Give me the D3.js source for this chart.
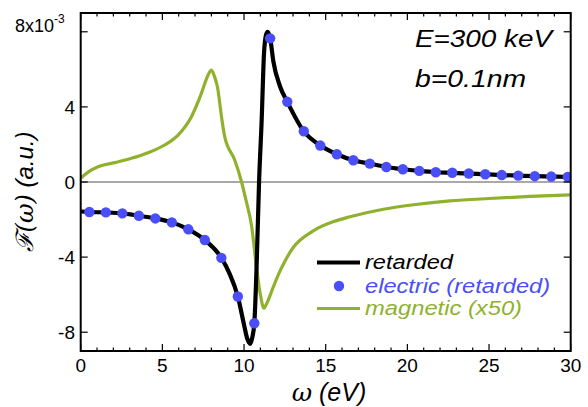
<!DOCTYPE html>
<html><head><meta charset="utf-8">
<script src="https://cdn.jsdelivr.net/npm/d3@7"></script>
<style>body{margin:0;background:#fff}svg{display:block}text{font-family:"Liberation Sans",Arial,sans-serif}</style>
</head><body><svg id="c" width="588" height="407"></svg>
<script>
// retarded (black line)
const retOmega = [0,0.53,1.54,2.55,3.56,4.57,5.58,6.59,7.6,8.61,9.1,9.62,10.0,10.2,10.38,10.5,10.63,10.78,10.92,11.08,11.22,11.35,11.45,11.6,11.8,12.2,12.65,13.66,14.67,15.68,16.69,17.7,18.71,19.72,20.73,21.74,22.75,23.76,24.77,25.78,26.79,27.8,28.81,29.82,30];
const retVal = [-1.57,-1.60,-1.62,-1.67,-1.80,-1.94,-2.15,-2.52,-3.09,-4.04,-4.85,-6.10,-7.6,-8.35,-8.62,-8.3,-7.52,-4.2,0,3.3,6.8,7.85,8.0,7.65,6.4,5.1,4.27,2.70,1.94,1.48,1.16,0.98,0.80,0.68,0.59,0.52,0.49,0.45,0.41,0.37,0.34,0.31,0.29,0.27,0.26];
// electric (retarded) (blue dots)
const elecOmega = [0.53,1.54,2.55,3.56,4.57,5.58,6.59,7.6,8.61,9.62,10.63,11.6,12.65,13.66,14.67,15.68,16.69,17.7,18.71,19.72,20.73,21.74,22.75,23.76,24.77,25.78,26.79,27.8,28.81,29.82];
const elecVal = [-1.60,-1.62,-1.67,-1.80,-1.94,-2.15,-2.52,-3.09,-4.04,-6.10,-7.52,7.65,4.27,2.70,1.94,1.48,1.16,0.98,0.80,0.68,0.59,0.52,0.49,0.45,0.41,0.37,0.34,0.31,0.29,0.27];
// magnetic (x50) (green line)
const magOmega = [0,0.5,1.06,2.08,3.1,4.12,5.14,5.96,6.78,7.39,7.8,8.0,8.2,8.37,8.65,8.82,9.43,9.85,10.1,10.47,10.78,11.0,11.22,11.4,11.8,12.2,13.0,14.24,15.47,16.49,18.53,20.5,22.6,25,27.5,30];
const magVal = [0.2,0.55,0.81,1.03,1.26,1.56,1.97,2.5,3.48,4.72,5.7,5.96,5.6,5.07,3.29,2.4,1.17,0,-0.9,-2.38,-4.68,-6.0,-6.72,-6.45,-5.57,-4.75,-3.5,-2.6,-2.11,-1.85,-1.45,-1.2,-1.01,-0.88,-0.77,-0.68];
const xTicks = [0,5,10,15,20,25,30];
const yTicks = [-8,-4,0,4];
const yTopLabel = "8x10";
const yTopExp = "-3";
const legendLabels = ["retarded","electric (retarded)","magnetic (x50)"];

const W=588,H=407, L=80.7, R=570.7, T=13, B=351;
const x=d3.scaleLinear().domain([0,30]).range([L,R]);
const y=d3.scaleLinear().domain([-9,9]).range([B,T]);
const svg=d3.select("#c");
const blue="#4a4ef6", green="#8fb12e";

svg.append("defs").append("clipPath").attr("id","clip").append("rect")
  .attr("x",L).attr("y",T).attr("width",R-L).attr("height",B-T);

// zero line
svg.append("line").attr("x1",L).attr("x2",R).attr("y1",y(0)).attr("y2",y(0))
  .attr("stroke","#555").attr("stroke-width",1.2);

const g=svg.append("g").attr("clip-path","url(#clip)");
const line=d3.line().x(d=>x(d[0])).y(d=>y(d[1])).curve(d3.curveMonotoneX);
g.append("path").datum(magOmega.map((o,i)=>[o,magVal[i]])).attr("d",line)
  .attr("fill","none").attr("stroke",green).attr("stroke-width",3.2);
g.append("path").datum(retOmega.map((o,i)=>[o,retVal[i]])).attr("d",line)
  .attr("fill","none").attr("stroke","#000").attr("stroke-width",4.2);
g.selectAll("circle.e").data(elecOmega.map((o,i)=>[o,elecVal[i]])).enter().append("circle")
  .attr("cx",d=>x(d[0])).attr("cy",d=>y(d[1])).attr("r",5.2).attr("fill",blue);

// axes frame with inward ticks
const minorX=d3.range(0,31,1);
const ax=svg.append("g");
minorX.forEach(v=>{
  const len = v%5===0?7:3.5;
  ax.append("line").attr("x1",x(v)).attr("x2",x(v)).attr("y1",B).attr("y2",B-len).attr("stroke","#000").attr("stroke-width",1.2);
  ax.append("line").attr("x1",x(v)).attr("x2",x(v)).attr("y1",T).attr("y2",T+len).attr("stroke","#000").attr("stroke-width",1.2);
});
[-8,-4,0,4,8].forEach(v=>{
  ax.append("line").attr("x1",L).attr("x2",L+7).attr("y1",y(v)).attr("y2",y(v)).attr("stroke","#000").attr("stroke-width",1.2);
  ax.append("line").attr("x1",R).attr("x2",R-7).attr("y1",y(v)).attr("y2",y(v)).attr("stroke","#000").attr("stroke-width",1.2);
});
ax.append("rect").attr("x",L).attr("y",T).attr("width",R-L).attr("height",B-T)
  .attr("fill","none").attr("stroke","#000").attr("stroke-width",2);

// tick labels
xTicks.forEach(v=>{
  svg.append("text").attr("x",x(v)).attr("y",372).attr("text-anchor","middle")
    .attr("font-size",19).text(v);
});
yTicks.forEach(v=>{
  svg.append("text").attr("x",75).attr("y",y(v)+7).attr("text-anchor","end")
    .attr("font-size",19).text(v);
});
const tl=svg.append("text").attr("x",15).attr("y",32).attr("font-size",18);
tl.append("tspan").text(yTopLabel);
tl.append("tspan").attr("dy",-9).attr("font-size",12).text(yTopExp);

// axis titles
const xt=svg.append("text").attr("x",329).attr("y",401).attr("text-anchor","middle").attr("font-size",25).attr("font-style","italic");
xt.append("tspan").attr("font-family","DejaVu Serif").text("ω");
xt.append("tspan").text(" (eV)");
const yt=svg.append("text").attr("transform","translate(33,"+192+") rotate(-90)").attr("text-anchor","middle").attr("font-size",24).attr("font-style","italic");
yt.append("tspan").attr("font-family","DejaVu Serif").text("ℱ(ω)");
yt.append("tspan").text(" (a.u.)");

// annotations
svg.append("text").attr("x",415).attr("y",47).attr("font-size",23).attr("font-style","italic")
  .attr("textLength",137).attr("lengthAdjust","spacingAndGlyphs").text("E=300 keV");
svg.append("text").attr("x",415).attr("y",87).attr("font-size",23).attr("font-style","italic")
  .attr("textLength",111).attr("lengthAdjust","spacingAndGlyphs").text("b=0.1nm");

// legend
const lg=svg.append("g");
lg.append("line").attr("x1",317).attr("x2",360).attr("y1",262.5).attr("y2",262.5).attr("stroke","#000").attr("stroke-width",4);
lg.append("circle").attr("cx",339).attr("cy",286).attr("r",5.2).attr("fill",blue);
lg.append("line").attr("x1",317).attr("x2",360).attr("y1",308.5).attr("y2",308.5).attr("stroke",green).attr("stroke-width",3.2);
const lcol=["#000",blue,green], ly=[269,292.5,315], lw=[88,185,157];
legendLabels.forEach((t,i)=>{
  lg.append("text").attr("x",365).attr("y",ly[i]).attr("font-size",20).attr("font-style","italic").attr("fill",lcol[i])
    .attr("textLength",lw[i]).attr("lengthAdjust","spacingAndGlyphs").text(t);
});
</script></body></html>
